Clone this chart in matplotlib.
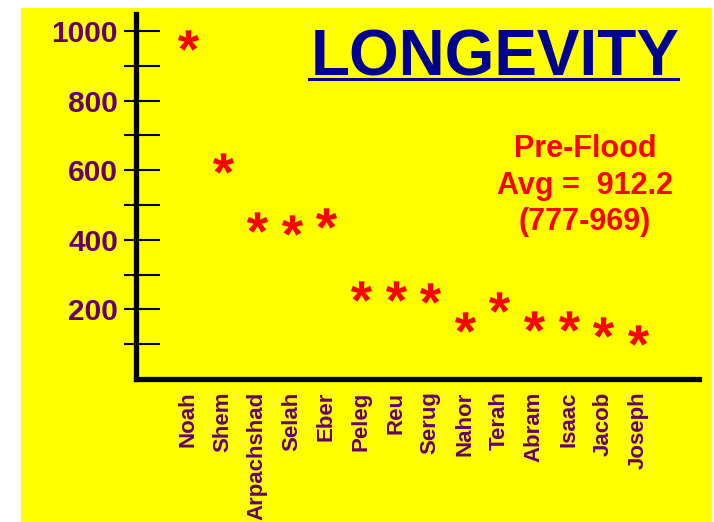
import matplotlib
matplotlib.use("Agg")
import matplotlib.pyplot as plt
import numpy as np
from matplotlib.patches import Rectangle
from matplotlib.lines import Line2D
from matplotlib.path import Path
from matplotlib.textpath import TextPath
from matplotlib.font_manager import FontProperties
from matplotlib.ticker import FixedLocator

plt.rcParams['font.family'] = ['Liberation Sans', 'DejaVu Sans']

# Lifespans (years) by generation
names = ["Noah", "Shem", "Arpachshad", "Selah", "Eber", "Peleg", "Reu",
         "Serug", "Nahor", "Terah", "Abram", "Isaac", "Jacob", "Joseph"]
ages = [975, 620, 450, 443, 463, 253, 253, 247, 164, 221, 167, 167, 149, 126]

major_ticks = [200, 400, 600, 800, 1000]
minor_ticks = [100, 300, 500, 700, 900]

title = "LONGEVITY"
note_lines = ["Pre-Flood", "Avg =  912.2", "(777-969)"]

YELLOW = "#FFFF00"
PURPLE = "#660066"
RED = "#FF0000"
NAVY = "#000090"

W, H = 714, 522
fig = plt.figure(figsize=(W / 100, H / 100), dpi=100)
fig.patch.set_facecolor("white")

# yellow slide background
fig.patches.append(Rectangle((21 / W, 0), (712 - 21) / W, (H - 8) / H,
                             transform=fig.transFigure, facecolor=YELLOW,
                             edgecolor="none", zorder=-5))

ax = fig.add_axes([136 / W, (H - 379) / H, (699 - 136) / W, (379 - 14) / H])
ax.set_facecolor("none")
ax.set_zorder(2)

# asterisk glyph as a marker, recentred on its own outline
glyph = TextPath((0, 0), "*", prop=FontProperties(family="Liberation Sans", weight="bold"))
verts = glyph.vertices.copy()
codes = glyph.codes
closing = np.where(codes == Path.CLOSEPOLY)[0]
verts[closing] = verts[closing - 1]
centre = (verts.min(axis=0) + verts.max(axis=0)) / 2
star = Path(verts - centre, codes)

x = list(range(len(names)))
ax.scatter(x, ages, marker=star, s=230, color=RED, linewidths=0, zorder=3)

ax.set_xlim(-1.5, 14.77)
ax.set_ylim(0, 1049)

for side in ("top", "right"):
    ax.spines[side].set_visible(False)
for side in ("left", "bottom"):
    ax.spines[side].set_linewidth(3.8)
    ax.spines[side].set_color("black")
    ax.spines[side].set_capstyle("projecting")

ax.yaxis.set_major_locator(FixedLocator(major_ticks))
ax.yaxis.set_minor_locator(FixedLocator(minor_ticks))
ax.set_yticklabels([str(v) for v in major_ticks])
ax.tick_params(axis="y", which="both", direction="in", length=17, width=1.5,
               color="black")
ax.tick_params(axis="y", which="major", pad=13, labelsize=21.5, labelcolor=PURPLE)
for lbl in ax.get_yticklabels():
    lbl.set_fontweight("bold")

# short outward stubs of the same ticks
stub = ax.secondary_yaxis("left")
stub.spines["left"].set_visible(False)
stub.yaxis.set_major_locator(FixedLocator(major_ticks + minor_ticks))
stub.tick_params(axis="y", direction="out", length=8.5, width=1.5,
                 color="black", labelleft=False)

ax.set_xticks(x)
ax.set_xticklabels(names, rotation=90, fontsize=16, fontweight="bold",
                   color=PURPLE, ha="center", va="top")
ax.tick_params(axis="x", length=0, pad=9)

# title with underline
fig.text(495 / W, (H - 75) / H, title, fontsize=46, fontweight="bold",
         color=NAVY, ha="center", va="baseline")
fig.lines.append(Line2D([309 / W, 678 / W], [(H - 79) / H] * 2,
                        transform=fig.transFigure, color=NAVY, linewidth=2.2))

# pre-flood note
for line, base in zip(note_lines, [157, 194, 230]):
    fig.text(585 / W, (H - base) / H, line, fontsize=22, fontweight="bold",
             color=RED, ha="center", va="baseline")

fig.savefig("out.png", dpi=100)
